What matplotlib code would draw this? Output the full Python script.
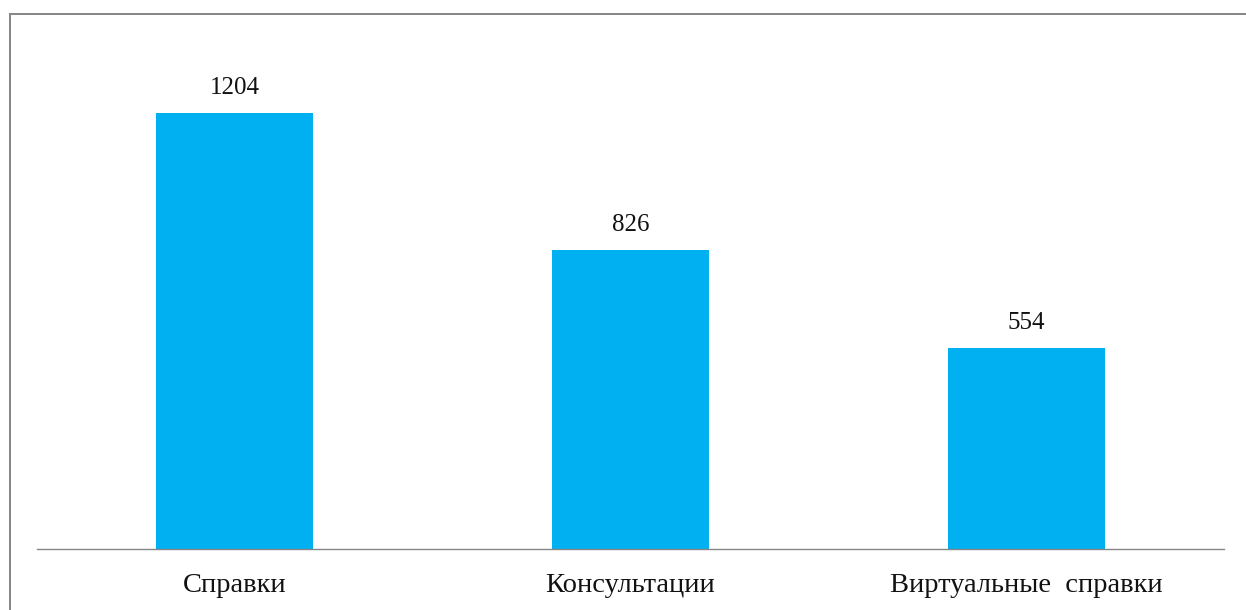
import matplotlib
matplotlib.use("Agg")
import matplotlib.pyplot as plt
from matplotlib.lines import Line2D

categories = ["Справки", "Консультации", "Виртуальные  справки"]
values = [1204, 826, 554]

W, H, DPI = 1246, 610, 100
plt.rcParams['font.family'] = ['Liberation Serif', 'DejaVu Serif']

fig = plt.figure(figsize=(W / DPI, H / DPI), dpi=DPI)
fig.patch.set_facecolor('white')

ax = fig.add_axes([37 / W, 61 / H, (1224 - 37) / W, 507 / H])
x = list(range(len(categories)))
bars = ax.bar(x, values, width=0.397, color='#00B0F0', zorder=2)
ax.set_xlim(-0.5, len(categories) - 0.5)
ax.set_ylim(0, 1400)

for s in ['top', 'right', 'left']:
    ax.spines[s].set_visible(False)
ax.spines['bottom'].set_color('#868686')
ax.spines['bottom'].set_linewidth(1.0)
ax.set_yticks([])
ax.set_xticks(x)
ax.set_xticklabels(categories, fontsize=20.5, color='#111111')
ax.tick_params(axis='x', length=0, pad=17)

for xi, v in zip(x, values):
    ax.annotate(str(v), (xi, v), xytext=(0, 10), textcoords='offset points',
                ha='center', va='bottom', fontsize=18, color='#111111')

# outer frame (left and top edges visible)
lw = 2 * 72 / DPI
fig.add_artist(Line2D([9.5 / W, 9.5 / W], [0, 1 - 13.5 / H], transform=fig.transFigure,
                      color='#888888', linewidth=lw))
fig.add_artist(Line2D([9.5 / W, 1], [1 - 13.5 / H, 1 - 13.5 / H], transform=fig.transFigure,
                      color='#888888', linewidth=lw))

fig.savefig('out.png', dpi=DPI, facecolor='white')
